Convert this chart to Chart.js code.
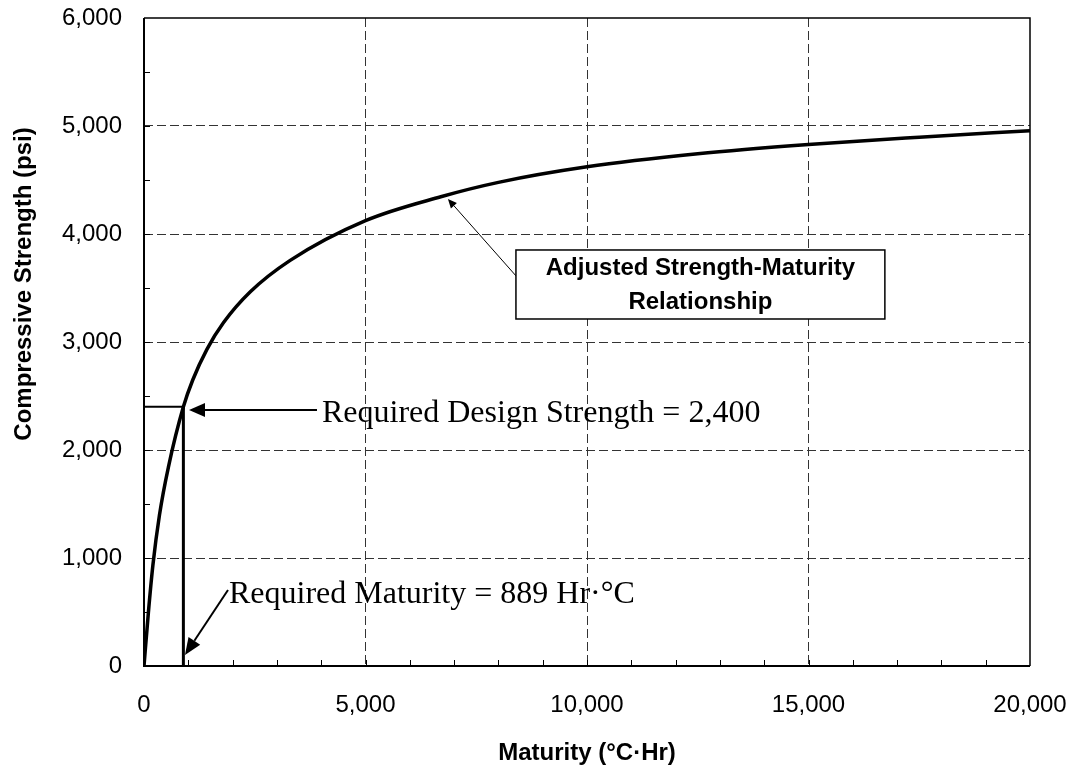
<!DOCTYPE html>
<html>
<head>
<meta charset="utf-8">
<script src="https://cdn.jsdelivr.net/npm/chart.js@4.4.0/dist/chart.umd.min.js"></script>
<style>
  html, body { margin: 0; padding: 0; background: #fff; }
</style>
</head>
<body>
<canvas id="chart" width="1073" height="771"></canvas>
<script>
// strength-maturity curve, values
const maturity = [0, 100, 200, 350, 550, 889, 1100, 1420, 1800, 2400, 3300, 5000, 6700, 8000, 10000, 12500, 15000, 17500, 20000];
const strength = [0, 500, 930, 1400, 1840, 2400, 2648, 2932, 3182, 3465, 3756, 4124, 4345, 4478, 4622, 4742, 4828, 4896, 4957];

// required design point
const requiredMaturity = 889;
const requiredStrength = 2400;

const xTicks = [0, 5000, 10000, 15000, 20000];
const yTicks = [0, 1000, 2000, 3000, 4000, 5000, 6000];

const designText = "Required Design Strength = 2,400";
const maturityText = "Required Maturity = 889 Hr·°C";
const curveText = ["Adjusted Strength-Maturity", "Relationship"];
const yTitle = "Compressive Strength (psi)";
const xTitle = "Maturity (°C·Hr)";

Chart.defaults.font.family = "'Liberation Sans', Arial, sans-serif";
Chart.defaults.color = "#000";

function arrow(ctx, x1, y1, x2, y2, len, half) {
  // line from (x1,y1) to the tip (x2,y2) with a filled head
  const ang = Math.atan2(y2 - y1, x2 - x1);
  const bx = x2 - Math.cos(ang) * len, by = y2 - Math.sin(ang) * len;
  ctx.beginPath();
  ctx.moveTo(x1, y1);
  ctx.lineTo(bx, by);
  ctx.stroke();
  ctx.beginPath();
  ctx.moveTo(x2, y2);
  ctx.lineTo(bx + Math.sin(ang) * half, by - Math.cos(ang) * half);
  ctx.lineTo(bx - Math.sin(ang) * half, by + Math.cos(ang) * half);
  ctx.closePath();
  ctx.fill();
}

const extras = {
  id: "extras",
  beforeDatasetsDraw(chart) {
    const { ctx, chartArea: a, scales: { x, y } } = chart;
    ctx.save();
    ctx.strokeStyle = "#000";
    ctx.lineWidth = 1;
    // small inner ticks
    for (let v = 500; v < 6000; v += 500) {
      const py = Math.round(y.getPixelForValue(v)) + 0.5;
      ctx.beginPath(); ctx.moveTo(a.left, py); ctx.lineTo(a.left + 6, py); ctx.stroke();
    }
    for (let v = 1000; v < 20000; v += 1000) {
      const px = Math.round(x.getPixelForValue(v)) + 0.5;
      ctx.beginPath(); ctx.moveTo(px, a.bottom); ctx.lineTo(px, a.bottom - 6); ctx.stroke();
    }
    // frame
    ctx.lineWidth = 1.5;
    ctx.beginPath();
    ctx.moveTo(a.left, a.top); ctx.lineTo(a.right, a.top); ctx.lineTo(a.right, a.bottom);
    ctx.stroke();
    ctx.lineWidth = 2;
    ctx.beginPath();
    ctx.moveTo(a.left, a.top); ctx.lineTo(a.left, a.bottom); ctx.lineTo(a.right, a.bottom);
    ctx.stroke();

    // y axis title
    ctx.font = "bold 24px 'Liberation Sans', Arial, sans-serif";
    ctx.fillStyle = "#000";
    ctx.translate(31, 284);
    ctx.rotate(-Math.PI / 2);
    ctx.textAlign = "center";
    ctx.textBaseline = "alphabetic";
    ctx.fillText(yTitle, 0, 0);
    ctx.restore();
  },
  afterDatasetsDraw(chart) {
    const { ctx, scales: { x, y } } = chart;
    const X = v => x.getPixelForValue(v), Y = v => y.getPixelForValue(v);
    ctx.save();
    ctx.fillStyle = "#000";
    ctx.strokeStyle = "#000";

    // design strength arrow + text
    ctx.lineWidth = 2;
    arrow(ctx, X(3905), Y(2370), X(1016), Y(2370), 16, 7);
    ctx.font = "32px 'Liberation Serif', 'Times New Roman', serif";
    ctx.textAlign = "left";
    ctx.textBaseline = "alphabetic";
    ctx.fillText(designText, X(4017), Y(2259));

    // maturity arrow + text
    arrow(ctx, X(1896), Y(704), X(925), Y(102), 17, 7);
    ctx.fillText(maturityText, X(1918), Y(583));

    // curve label box
    ctx.lineWidth = 1;
    arrow(ctx, X(8419), Y(3602), X(6861), Y(4324), 9, 4);
    const bl = X(8396), br = X(16724), bt = Y(3852), bb = Y(3213);
    ctx.fillStyle = "#fff";
    ctx.fillRect(bl, bt, br - bl, bb - bt);
    ctx.lineWidth = 1.5;
    ctx.strokeRect(bl, bt, br - bl, bb - bt);
    ctx.fillStyle = "#000";
    ctx.font = "bold 24px 'Liberation Sans', Arial, sans-serif";
    ctx.textAlign = "center";
    ctx.textBaseline = "middle";
    ctx.fillText(curveText[0], (bl + br) / 2, Y(3685));
    ctx.fillText(curveText[1], (bl + br) / 2, Y(3370));
    ctx.restore();
  }
};

const gridColor = (last) => (c) => {
  const v = c.tick ? c.tick.value : null;
  return (v === 0 || v === last) ? "rgba(0,0,0,0)" : "#333";
};

const noPad = s => { s.paddingLeft = 0; s.paddingRight = 0; s.paddingTop = 0; s.paddingBottom = 0; };

new Chart(document.getElementById("chart"), {
  type: "scatter",
  data: {
    datasets: [
      {
        data: maturity.map((m, i) => ({ x: m, y: strength[i] })),
        showLine: true,
        borderColor: "#000",
        borderWidth: 3.5,
        pointRadius: 0,
        cubicInterpolationMode: "monotone",
        order: 0
      },
      {
        data: [{ x: requiredMaturity, y: 0 }, { x: requiredMaturity, y: requiredStrength }],
        showLine: true,
        borderColor: "#000",
        borderWidth: 3,
        pointRadius: 0,
        order: 1
      },
      {
        data: [{ x: 0, y: requiredStrength }, { x: requiredMaturity, y: requiredStrength }],
        showLine: true,
        borderColor: "#000",
        borderWidth: 2,
        pointRadius: 0,
        order: 1
      }
    ]
  },
  options: {
    responsive: false,
    animation: false,
    layout: { padding: { left: 0, top: 18, right: 43, bottom: 0 } },
    plugins: { legend: { display: false }, tooltip: { enabled: false } },
    scales: {
      x: {
        type: "linear",
        min: 0,
        max: 20000,
        afterBuildTicks: s => { s.ticks = xTicks.map(v => ({ value: v })); },
        afterFit: s => { s.height = 105; noPad(s); },
        ticks: { font: { size: 24 }, padding: 25, maxRotation: 0 },
        grid: { color: gridColor(20000), lineWidth: 1, drawTicks: false },
        border: { display: false, dash: [9, 4] },
        title: { display: true, text: xTitle, font: { size: 24, weight: "bold" }, padding: { top: 0, bottom: 3 } }
      },
      y: {
        type: "linear",
        min: 0,
        max: 6000,
        afterBuildTicks: s => { s.ticks = yTicks.map(v => ({ value: v })); },
        afterFit: s => { s.width = 144; noPad(s); },
        ticks: { font: { size: 24 }, padding: 22 },
        grid: { color: gridColor(6000), lineWidth: 1, drawTicks: false },
        border: { display: false, dash: [9, 4] }
      }
    }
  },
  plugins: [extras]
});
</script>
</body>
</html>
